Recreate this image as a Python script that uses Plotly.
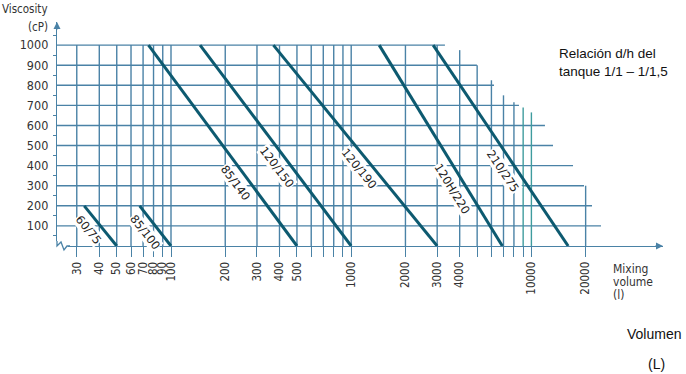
import math
import plotly.graph_objects as go

# ---------------- data ----------------
grid_volumes = [30, 40, 50, 60, 70, 80, 90, 100, 200, 300, 400, 500, 600, 700, 800, 900,
                1000, 2000, 3000, 4000, 5000, 6000, 7000, 8000, 9000, 10000, 20000]
grid_volume_tops = [1000] * 19 + [975, 900, 825, 750, 715, 690, 665, 300]
tick_labels = ["30", "40", "50", "60", "70", "80", "90", "100", "200", "300", "400", "500",
               "", "", "", "", "1000", "2000", "3000", "4000", "", "", "", "", "", "10000", "20000"]

visc_levels = [100, 200, 300, 400, 500, 600, 700, 800, 900, 1000]
visc_level_ends = [24330, 21690, 19590, 17020, 13180, 11890, 8530, 6200, 4985, 3313]

series_names = ["60/75", "85/100", "85/140", "120/150", "120/190", "120H/220", "210/275"]
series_vol_top = [33, 67, 75, 145, 370, 1430, 2850]
series_visc_top = [200, 200, 1000, 1000, 1000, 1000, 1000]
series_vol_end = [50, 100, 500, 1000, 3000, 6900, 16000]
series_visc_end = [0, 0, 0, 0, 0, 0, 0]

# ---------------- layout settings ----------------
label_visc = [80, 70, 313, 393, 383, 284, 373]   # where each label sits along its line
W, H = 686, 374
M = dict(l=57, r=23, t=22, b=128)
XR = [1.3674, 4.7303]
YR = [0, 1115]
plot_w = W - M["l"] - M["r"]
plot_h = H - M["t"] - M["b"]
px_per_log = plot_w / (XR[1] - XR[0])
px_per_cp = plot_h / (YR[1] - YR[0])

GRID = "#4a82a6"
GRID2 = "#3f9c9e"
LINE = "#0d5a70"
TXT = "#333333"
COND = "DejaVu Sans Condensed, DejaVu Sans, sans-serif"
ARIAL = "Liberation Sans, Arial, sans-serif"


def px_x(px):
    return (px - M["l"]) / plot_w


def px_y(py):
    return (H - M["b"] - py) / plot_h


fig = go.Figure()
x_left = 10 ** XR[0]

for v, end in zip(visc_levels, visc_level_ends):
    fig.add_trace(go.Scatter(x=[x_left, end], y=[v, v], mode="lines",
                             line=dict(color=GRID, width=1.4),
                             hoverinfo="skip", showlegend=False))
for xv, top in zip(grid_volumes, grid_volume_tops):
    col = GRID2 if xv in (9000, 10000) else GRID
    fig.add_trace(go.Scatter(x=[xv, xv], y=[0, top], mode="lines",
                             line=dict(color=col, width=1.4),
                             hoverinfo="skip", showlegend=False))

annotations = []
for name, v0, c0, v1, c1, lc in zip(series_names, series_vol_top, series_visc_top,
                                    series_vol_end, series_visc_end, label_visc):
    fig.add_trace(go.Scatter(x=[v0, v1], y=[c0, c1], mode="lines", name=name,
                             line=dict(color=LINE, width=3), showlegend=False,
                             hoverinfo="skip"))
    l0, l1 = math.log10(v0), math.log10(v1)
    t = (c0 - lc) / (c0 - c1)
    lx = l0 + t * (l1 - l0)
    dy = (c0 - c1) * px_per_cp
    dx = (l1 - l0) * px_per_log
    ang = math.degrees(math.atan2(dy, dx))
    annotations.append(dict(x=lx, y=lc, xref="x", yref="y", text=name, showarrow=False,
                            textangle=ang, xshift=-15, bgcolor="white", borderpad=0,
                            font=dict(family="DejaVu Sans", size=11.5, color="#222222")))

# axis arrows
annotations.append(dict(x=1, y=0, xref="paper", yref="paper", text="", showarrow=True,
                        ax=-9, ay=0, arrowhead=2, arrowsize=1, arrowwidth=1.4,
                        arrowcolor=GRID, standoff=0))
annotations.append(dict(x=0, y=1, xref="paper", yref="paper", text="", showarrow=True,
                        ax=0, ay=9, arrowhead=2, arrowsize=1, arrowwidth=1.4,
                        arrowcolor=GRID, standoff=0))

# texts
annotations += [
    dict(x=px_x(50), y=px_y(9), xref="paper", yref="paper", text="Viscosity",
         showarrow=False, xanchor="right", yanchor="middle",
         font=dict(family=COND, size=11.5, color=TXT)),
    dict(x=px_x(50), y=px_y(27), xref="paper", yref="paper", text="(cP)",
         showarrow=False, xanchor="right", yanchor="middle",
         font=dict(family=COND, size=11.5, color=TXT)),
    dict(x=px_x(611), y=px_y(269), xref="paper", yref="paper", text="Mixing",
         showarrow=False, xanchor="left", yanchor="middle",
         font=dict(family=COND, size=12, color=TXT)),
    dict(x=px_x(611), y=px_y(282), xref="paper", yref="paper", text="volume",
         showarrow=False, xanchor="left", yanchor="middle",
         font=dict(family=COND, size=12, color=TXT)),
    dict(x=px_x(611), y=px_y(295), xref="paper", yref="paper", text="(l)",
         showarrow=False, xanchor="left", yanchor="middle",
         font=dict(family=COND, size=12, color=TXT)),
    dict(x=px_x(557), y=px_y(44), xref="paper", yref="paper",
         text="Relación d/h del<br>tanque 1/1 – 1/1,5", showarrow=False,
         xanchor="left", yanchor="top", align="left",
         font=dict(family=ARIAL, size=13.5, color="#111111")),
    dict(x=px_x(654), y=px_y(334), xref="paper", yref="paper", text="Volumen",
         showarrow=False, xanchor="center", yanchor="middle",
         font=dict(family=ARIAL, size=14, color="#111111")),
    dict(x=px_x(656), y=px_y(364), xref="paper", yref="paper", text="(L)",
         showarrow=False, xanchor="center", yanchor="middle",
         font=dict(family=ARIAL, size=14, color="#111111")),
]

# broken-axis zigzag
shapes = [
    dict(type="rect", xref="paper", yref="paper", x0=px_x(56), x1=px_x(68),
         y0=px_y(250), y1=px_y(241), fillcolor="white", line=dict(width=0), layer="above"),
    dict(type="path", xref="paper", yref="paper", layer="above",
         path="M {} {} L {} {} L {} {} L {} {} L {} {} L {} {}".format(
             px_x(57), px_y(241), px_x(57), px_y(246), px_x(61), px_y(242),
             px_x(64), px_y(250), px_x(67), px_y(246), px_x(70), px_y(246)),
         line=dict(color=GRID, width=1.3)),
]

fig.update_layout(
    width=W, height=H, margin=M, plot_bgcolor="white", paper_bgcolor="white",
    showlegend=False, annotations=annotations, shapes=shapes, hovermode=False,
    xaxis=dict(type="log", range=XR, showgrid=False, zeroline=False,
               showline=True, linecolor=GRID, linewidth=1.4,
               ticks="outside", ticklen=10, tickwidth=1.4, tickcolor=GRID,
               tickmode="array", tickvals=grid_volumes, ticktext=tick_labels,
               tickangle=-90, tickfont=dict(family=COND, size=11.5, color=TXT)),
    yaxis=dict(range=YR, showgrid=False, zeroline=False,
               showline=True, linecolor=GRID, linewidth=1.4,
               tickmode="array", tickvals=visc_levels,
               ticktext=[str(v) for v in visc_levels], ticks="",
               ticklabelstandoff=5,
               tickfont=dict(family=COND, size=12.5, color=TXT),
               minor=dict(tick0=50, dtick=100, ticks="outside", ticklen=3,
                          tickcolor=GRID, tickwidth=1.2, showgrid=False)),
)

fig.write_html("out.html", config={"displayModeBar": False},
               post_script="document.body.style.margin='0';document.body.style.padding='0';")
